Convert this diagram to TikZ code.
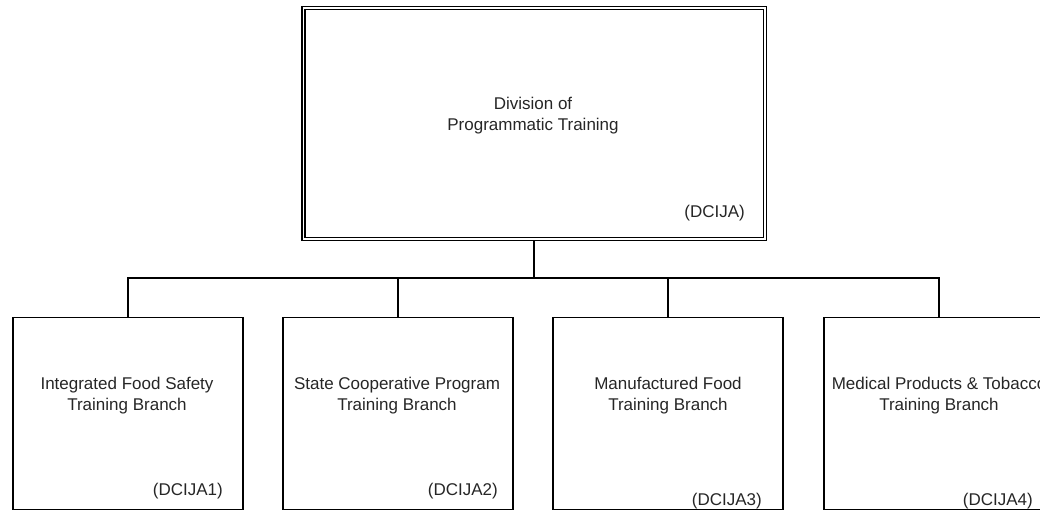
\documentclass[tikz,border=0pt]{standalone}
\usepackage{fontspec}
\setmainfont{Liberation Sans}
\begin{document}
\begin{tikzpicture}[x=1pt,y=-1pt,
  every node/.style={font=\fontsize{17}{21}\selectfont, text=black!85},
  topbox/.style={draw, rectangle, line width=1.5pt, double, double distance=1.5pt,
    minimum width=461.5pt, minimum height=230.5pt, inner sep=0pt, outer sep=2.25pt},
  branchbox/.style={draw, rectangle, line width=1.3pt, minimum width=230pt,
    minimum height=192pt, inner sep=0pt, outer sep=0pt},
  title/.style={align=center, anchor=base, inner sep=0pt},
  code/.style={anchor=base east, inner sep=0pt},
  link/.style={line width=1.3pt}]
\useasboundingbox (0,0) rectangle (1040,511);
\clip (0,0) rectangle (1040,511);
\node[topbox] (top) at (534,123.5) {};
\node[branchbox] (b1) at (128,413.5) {};
\node[branchbox] (b2) at (398,413.5) {};
\node[branchbox] (b3) at (668,413.5) {};
\node[branchbox] (b4) at (939,413.5) {};
\coordinate (bus) at (0,278);
\draw[link] (top.south) -- (top.south |- bus);
\draw[link] (b1.north) |- (b4.north |- bus) -- (b4.north);
\draw[link] (b2.north) -- (b2.north |- bus);
\draw[link] (b3.north) -- (b3.north |- bus);
\node[title] (t0) at (533,130) {Division of\\Programmatic Training};
\node[code] (c0) at (745,217) {(DCIJA)};
\node[title] (t1) at (127,410) {Integrated Food Safety\\Training Branch};
\node[title] (t2) at (397,410) {State Cooperative Program\\Training Branch};
\node[title] (t3) at (668,410) {Manufactured Food\\Training Branch};
\node[title] (t4) at (939,410) {Medical Products \& Tobacco\\Training Branch};
\node[code] (c1) at (223,495) {(DCIJA1)};
\node[code] (c2) at (498,495) {(DCIJA2)};
\node[code] (c3) at (762,505) {(DCIJA3)};
\node[code] (c4) at (1033,505) {(DCIJA4)};
\end{tikzpicture}
\end{document}
